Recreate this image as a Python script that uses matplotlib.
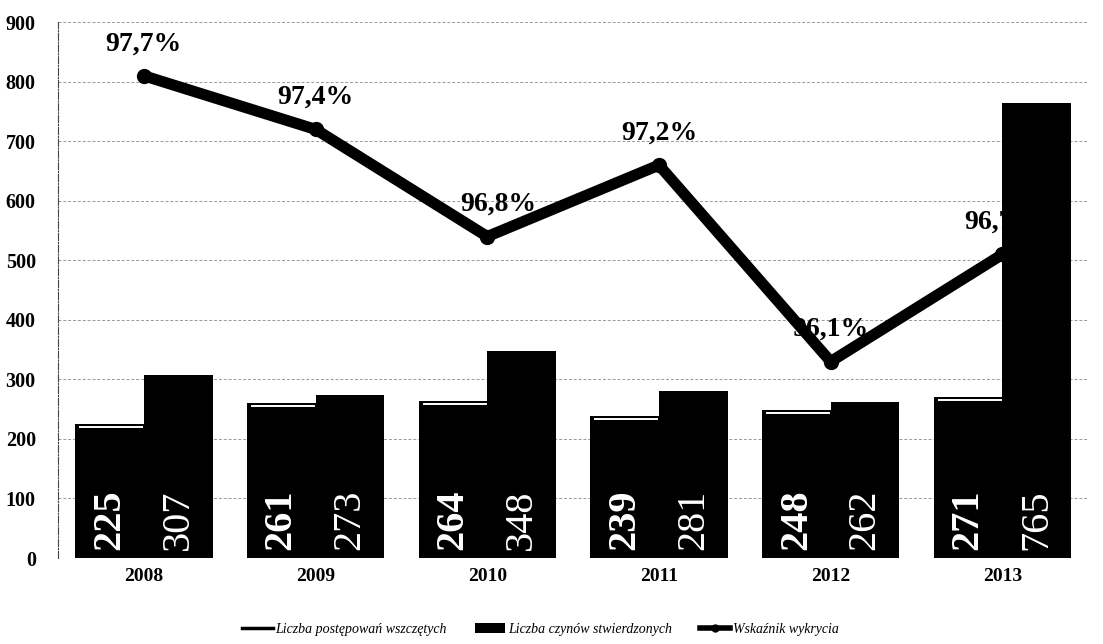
import matplotlib.pyplot as plt
import numpy as np
from matplotlib.lines import Line2D
from matplotlib.patches import Patch

years = ['2008', '2009', '2010', '2011', '2012', '2013']
wszczete = [225, 261, 264, 239, 248, 271]
stwierdzone = [307, 273, 348, 281, 262, 765]
wskaznik = [97.7, 97.4, 96.8, 97.2, 96.1, 96.7]
wsk_labels = ['97,7%', '97,4%', '96,8%', '97,2%', '96,1%', '96,7%']
legend_labels = ['Liczba postępowań wszczętych', 'Liczba czynów stwierdzonych', 'Wskaźnik wykrycia']

serif = 'Liberation Serif'
fig = plt.figure(figsize=(11.03, 6.44), dpi=100)
ax = fig.add_axes([0.0526, 0.1335, 0.934, 0.832])
ax2 = ax.twinx()
# bars axis on top of line axis, so the 2013 bar hides the line end
ax.set_zorder(ax2.get_zorder() + 1)
ax.patch.set_visible(False)

x = np.arange(len(years))
w = 0.4
ax.bar(x - w/2, wszczete, w, color='black', zorder=3)
ax.bar(x + w/2, stwierdzone, w, color='black', zorder=3)
# white highlight on top of first bars
for xi, v in zip(x, wszczete):
    ax.plot([xi - w + 0.03, xi - 0.01], [v - 5, v - 5], color='white', lw=1.4, zorder=4)

for xi, v in zip(x, wszczete):
    ax.text(xi - w/2, 14, str(v), rotation=90, ha='center', va='bottom', color='white',
            fontsize=29, fontweight='bold', family=serif, zorder=5)
for xi, v in zip(x, stwierdzone):
    ax.text(xi + w/2, 14, str(v), rotation=90, ha='center', va='bottom', color='white',
            fontsize=29, family=serif, zorder=5)

ax.set_xlim(-0.5, 5.5)
ax.set_ylim(0, 900)
ax.set_yticks(range(0, 901, 100))
ax.set_xticks(x)
ax.set_xticklabels(years, fontsize=14, fontweight='bold', family=serif)
for lab in ax.get_yticklabels():
    lab.set_fontsize(14.5)
    lab.set_fontweight('bold')
    lab.set_family(serif)
ax.tick_params(length=0, pad=16)
ax.tick_params(axis='x', pad=7)
for s in ['top', 'right', 'bottom']:
    ax.spines[s].set_visible(False)
ax.spines['left'].set_linestyle('-.')
ax.spines['left'].set_linewidth(0.8)
ax.spines['left'].set_color('#444444')

# line on the hidden secondary scale
ax2.set_ylim(95, 98)
ax2.set_yticks(np.linspace(95, 98, 10))
ax2.grid(axis='y', linestyle=(0, (3, 2)), color='#999999', linewidth=0.7)
ax2.tick_params(right=False, labelright=False, length=0)
for s in ax2.spines.values():
    s.set_visible(False)
ax2.plot(x, wskaznik, color='black', lw=8, marker='o', markersize=10, zorder=2,
         solid_capstyle='round')
for xi, v, t in zip(x, wskaznik, wsk_labels):
    dx = 8 if t == '96,8%' else 0
    ax2.annotate(t, (xi, v), xytext=(dx, 23), textcoords='offset points', ha='center', va='center',
                 fontsize=20, fontweight='bold', family=serif, zorder=3)

handles = [Line2D([0], [0], color='black', lw=2.5),
           Patch(facecolor='black'),
           Line2D([0], [0], color='black', lw=4, marker='o', markersize=5)]
fig.legend(handles, legend_labels, loc='center', bbox_to_anchor=(0.49, 0.023), ncol=3,
           frameon=False, columnspacing=2.0, handlelength=2.2, handletextpad=0.2,
           prop={'family': serif, 'style': 'italic', 'size': 10})

fig.savefig('out.png', dpi=100)
